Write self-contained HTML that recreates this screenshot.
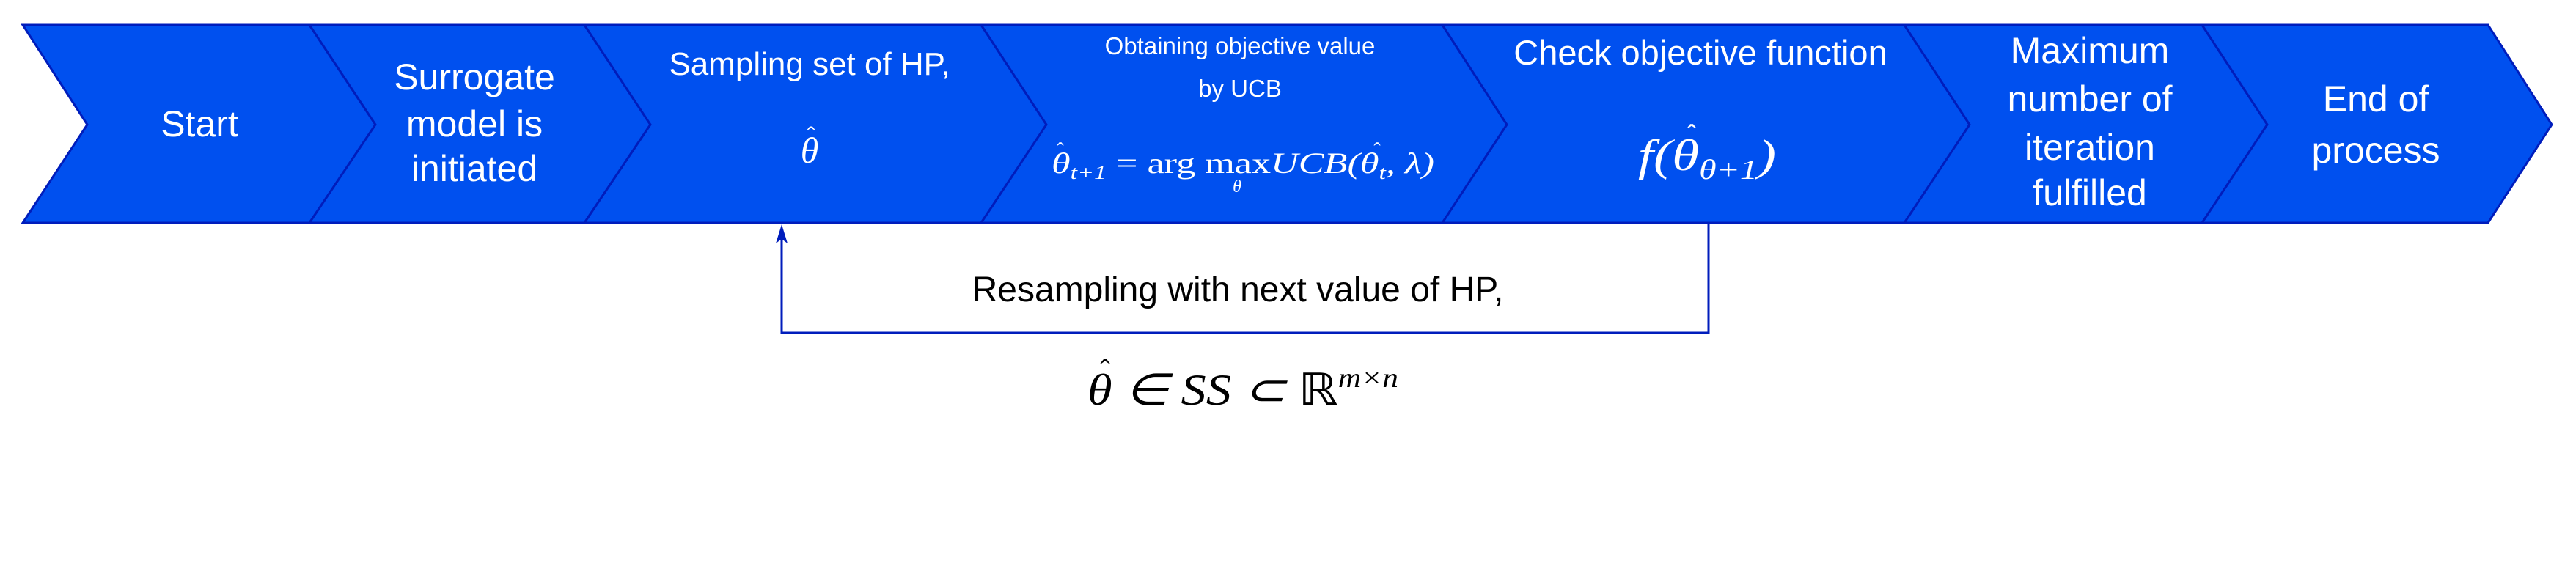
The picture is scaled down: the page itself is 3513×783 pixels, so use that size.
<!DOCTYPE html>
<html><head><meta charset="utf-8"><style>
html,body{margin:0;padding:0;background:#fff;}
svg{display:block;}
.w{fill:#fff;font-family:"Liberation Sans",sans-serif;text-anchor:middle;}
.m{font-family:"Liberation Serif",serif;font-style:italic;}
.hat{font-family:"Liberation Serif",serif;text-anchor:middle;}
</style></head><body>
<svg width="3513" height="783" viewBox="0 0 3513 783">
<g stroke="#001dbc" stroke-width="3" fill="#0050ef">
<polygon points="31,34 422,34 512,170 422,304 31,304 119,170"/>
<polygon points="422,34 797,34 887,170 797,304 422,304 512,170"/>
<polygon points="797,34 1338,34 1427,170 1338,304 797,304 887,170"/>
<polygon points="1338,34 1967,34 2055,170 1967,304 1338,304 1427,170"/>
<polygon points="1967,34 2597,34 2686,170 2597,304 1967,304 2055,170"/>
<polygon points="2597,34 3003,34 3092,170 3003,304 2597,304 2686,170"/>
<polygon points="3003,34 3393,34 3480,170 3393,304 3003,304 3092,170"/>
</g>
<g class="w" font-size="50">
<text x="272" y="186">Start</text>
<text x="647" y="122">Surrogate</text>
<text x="647" y="186">model is</text>
<text x="647" y="247">initiated</text>
<text x="1104" y="102" font-size="44">Sampling set of HP,</text>
<text x="1691" y="74" font-size="33">Obtaining objective value</text>
<text x="1691" y="132" font-size="33">by UCB</text>
<text x="2319" y="88" font-size="47">Check objective function</text>
<text x="2850" y="86">Maximum</text>
<text x="2850" y="152">number of</text>
<text x="2850" y="218">iteration</text>
<text x="2850" y="280">fulfilled</text>
<text x="3240" y="152">End of</text>
<text x="3240" y="222">process</text>
</g>
<g fill="#fff">
<text class="m" x="1104" y="222" font-size="50" text-anchor="middle">θ</text>
<text class="hat" x="1106" y="196" font-size="34">ˆ</text>
<text class="m" x="1434" y="236" font-size="40" textLength="522" lengthAdjust="spacingAndGlyphs">θ<tspan font-size="26" dy="8">t+1</tspan><tspan dy="-8" font-style="normal"> = arg max</tspan>UCB(θ<tspan font-size="26" dy="8">t</tspan><tspan dy="-8">, λ)</tspan></text>
<text class="hat" x="1446" y="214" font-size="28">ˆ</text>
<text class="hat" x="1878" y="214" font-size="28">ˆ</text>
<text class="m" x="1687" y="262" font-size="24" text-anchor="middle">θ</text>
<text class="m" x="2234" y="232" font-size="60" textLength="188" lengthAdjust="spacingAndGlyphs">f(θ<tspan font-size="38" dy="12">θ+1</tspan><tspan dy="-12">)</tspan></text>
<text class="hat" x="2307" y="196" font-size="38">ˆ</text>
</g>
<g stroke="#001dbc" stroke-width="3" fill="none">
<polyline points="2330,304 2330,454 1066,454 1066,320"/>
</g>
<polygon fill="#001dbc" points="1066,306 1058,332 1066,326 1074,332"/>
<text x="1688" y="411" font-family="Liberation Sans, sans-serif" font-size="48" text-anchor="middle" fill="#000">Resampling with next value of HP,</text>
<text class="m" x="1483" y="552" font-size="60" fill="#000" textLength="424" lengthAdjust="spacingAndGlyphs">θ ∈ SS ⊂ <tspan font-style="normal">ℝ</tspan><tspan font-size="38" dy="-24">m×n</tspan></text>
<text class="hat" x="1507" y="518" font-size="40" fill="#000">ˆ</text>
</svg>
</body></html>
